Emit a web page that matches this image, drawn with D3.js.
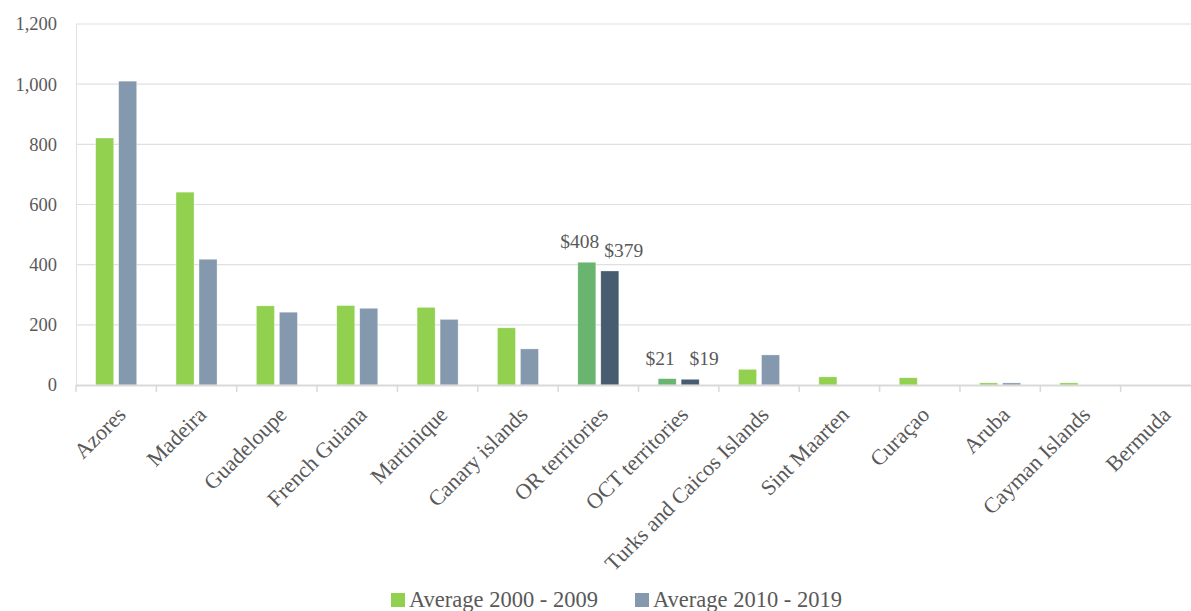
<!DOCTYPE html>
<html>
<head>
<meta charset="utf-8">
<script src="https://cdn.jsdelivr.net/npm/d3@7"></script>
<style>
  html, body { margin: 0; padding: 0; background: #ffffff; }
  svg { display: block; }
  text { font-family: "Liberation Serif", "DejaVu Serif", serif; fill: #595959; }
</style>
</head>
<body>
<svg id="chart" width="1191" height="611"></svg>
<script>
const categories = ["Azores", "Madeira", "Guadeloupe", "French Guiana", "Martinique", "Canary islands",
  "OR territories", "OCT territories", "Turks and Caicos Islands", "Sint Maarten", "Curaçao",
  "Aruba", "Cayman Islands", "Bermuda"];
const avg2000 = [821, 641, 263, 264, 258, 190, 408, 21, 52, 27, 24, 7, 7, 0];
const avg2010 = [1010, 418, 242, 255, 218, 120, 379, 19, 100, 0, 0, 7, 0, 0];
const seriesNames = ["Average 2000 - 2009", "Average 2010 - 2019"];
const aggregateCategories = ["OR territories", "OCT territories"];
const yTicks = [0, 200, 400, 600, 800, 1000, 1200];

const colors = ["#92d050", "#8599ae"];
const aggColors = ["#69b46f", "#475c6e"];

const svg = d3.select("#chart");
const plotLeft = 76, plotRight = 1201, plotTop = 24, plotBottom = 385;

const x = d3.scaleBand().domain(categories).range([plotLeft, plotRight]).padding(0);
const inner = d3.scaleBand().domain(seriesNames).range([0, x.bandwidth()])
  .paddingInner(0.217).paddingOuter(0.856);
const y = d3.scaleLinear().domain([0, 1200]).range([plotBottom, plotTop]);

// gridlines
svg.append("g").selectAll("line").data(yTicks.filter(d => d > 0)).join("line")
  .attr("x1", plotLeft).attr("x2", plotRight)
  .attr("y1", d => y(d)).attr("y2", d => y(d))
  .attr("stroke", "#e0e0e0").attr("stroke-width", 1.2);

// y axis line
svg.append("line").attr("x1", plotLeft + 0.5).attr("x2", plotLeft + 0.5)
  .attr("y1", plotTop).attr("y2", plotBottom)
  .attr("stroke", "#e0e0e0").attr("stroke-width", 1);

// y labels
const yAxis = d3.axisLeft(y).tickValues(yTicks).tickFormat(d3.format(",")).tickSize(0).tickPadding(0);
const yg = svg.append("g").attr("transform", `translate(${plotLeft - 19},0)`).call(yAxis);
yg.select(".domain").remove();
yg.selectAll("text").style("font-size", "18.5px").attr("fill", "#595959")
  .style("font-family", '"Liberation Serif", serif').attr("dy", "0.32em");

// bars
const rows = categories.map((c, i) => ({ cat: c, vals: [avg2000[i], avg2010[i]] }));
const groups = svg.append("g").selectAll("g").data(rows).join("g")
  .attr("transform", d => `translate(${x(d.cat)},0)`);
groups.selectAll("rect").data(d => d.vals.map((v, j) => ({ cat: d.cat, v, j }))).join("rect")
  .attr("x", d => inner(seriesNames[d.j]))
  .attr("width", inner.bandwidth())
  .attr("y", d => y(d.v))
  .attr("height", d => y(0) - y(d.v))
  .attr("fill", d => aggregateCategories.includes(d.cat) ? aggColors[d.j] : colors[d.j])
  .attr("stroke", "#ffffff").attr("stroke-opacity", 0.5).attr("stroke-width", 0.6);

// data labels for aggregate categories
const labelData = [];
rows.forEach(r => { if (aggregateCategories.includes(r.cat)) r.vals.forEach((v, j) => labelData.push({ cat: r.cat, v, j })); });
svg.append("g").selectAll("text").data(labelData).join("text")
  .attr("x", d => x(d.cat) + inner(seriesNames[d.j]) + inner.bandwidth() / 2 + (d.j === 0 ? -7 : 14))
  .attr("y", d => y(d.v) - 14)
  .attr("text-anchor", "middle")
  .style("font-size", "19.5px")
  .attr("fill", "#505050")
  .text(d => "$" + d3.format(",")(d.v));

// x axis
const xg = svg.append("g");
xg.append("line").attr("x1", plotLeft).attr("x2", plotRight)
  .attr("y1", plotBottom + 0.5).attr("y2", plotBottom + 0.5)
  .attr("stroke", "#d9d9d9").attr("stroke-width", 2);
const boundaries = categories.map(c => x(c)).concat([x.range()[1]]);
xg.selectAll("line.tick").data(boundaries).join("line").attr("class", "tick")
  .attr("x1", d => d).attr("x2", d => d)
  .attr("y1", plotBottom).attr("y2", plotBottom + 7)
  .attr("stroke", "#d9d9d9").attr("stroke-width", 1.5);
xg.selectAll("text").data(categories).join("text")
  .attr("transform", d => `translate(${x(d) + x.bandwidth() / 2 + 11},${plotBottom + 31}) rotate(-45)`)
  .attr("text-anchor", "end")
  .style("font-size", "22px")
  .text(d => d);

// legend
const legend = svg.append("g").attr("transform", "translate(391,593)");
const legendX = [0, 244];
seriesNames.forEach((name, j) => {
  const g = legend.append("g").attr("transform", `translate(${legendX[j]},0)`);
  g.append("rect").attr("x", 0).attr("y", 0).attr("width", 14).attr("height", 14).attr("fill", colors[j]);
  g.append("text").attr("x", 18).attr("y", 14).style("font-size", "22.5px").text(name);
});
</script>
</body>
</html>
